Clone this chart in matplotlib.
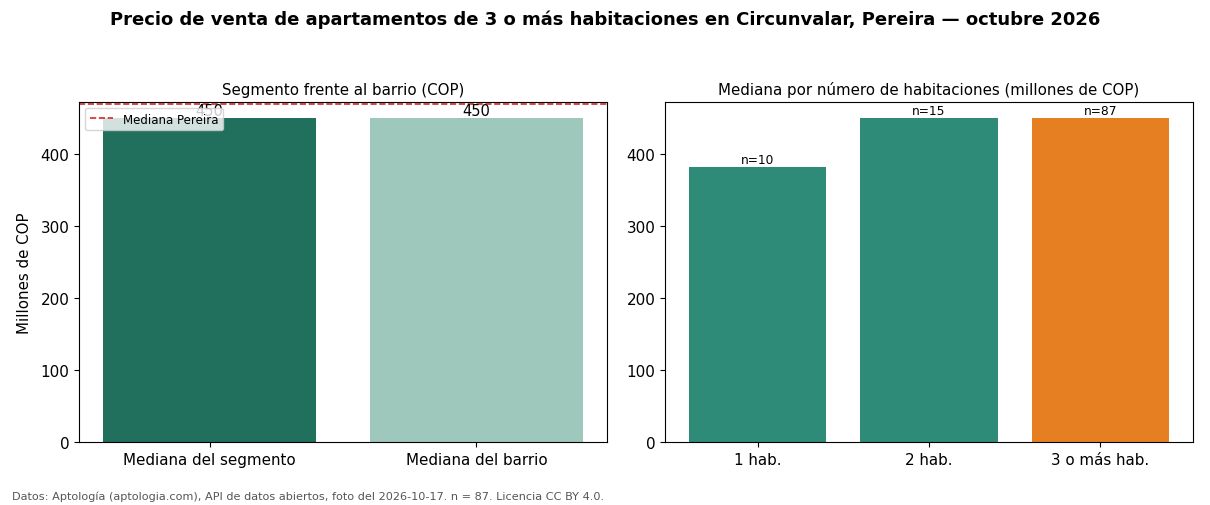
import matplotlib
matplotlib.use("Agg")
import matplotlib.pyplot as plt

plt.rcParams["font.family"] = ["DejaVu Sans"]

left_cats = ["Mediana del segmento", "Mediana del barrio"]
left_vals = [450, 450]
pereira_median = 470
right_cats = ["1 hab.", "2 hab.", "3 o más hab."]
right_vals = [382, 450, 450]
right_n = [10, 15, 87]

fig = plt.figure(figsize=(12.1, 5.06), dpi=100)
W, H = 1210, 506
ax1 = fig.add_axes([79 / W, 1 - 443 / H, (607 - 79) / W, (443 - 103) / H])
ax2 = fig.add_axes([665 / W, 1 - 443 / H, (1193 - 665) / W, (443 - 103) / H])

ymax = max(left_vals) * 1.05
b1 = ax1.bar(left_cats, left_vals, color=["#216f5d", "#9ec8bb"], width=0.8)
for rect, v in zip(b1, left_vals):
    ax1.text(rect.get_x() + rect.get_width() / 2, v, f"{v:.0f}", ha="center", va="bottom", fontsize=10.5)
ax1.axhline(pereira_median, color="#d62728", linestyle="--", linewidth=1.2, label="Mediana Pereira")
ax1.set_ylim(0, ymax)
ax1.set_ylabel("Millones de COP", fontsize=10.8, labelpad=6)
ax1.set_title("Segmento frente al barrio (COP)", fontsize=10.8)
ax1.legend(loc="upper left", fontsize=8.5)
ax1.tick_params(labelsize=10.9)

colors2 = ["#2e8b77", "#2e8b77", "#e67f22"]
b2 = ax2.bar(right_cats, right_vals, color=colors2, width=0.8)
for rect, v, n in zip(b2, right_vals, right_n):
    ax2.text(rect.get_x() + rect.get_width() / 2, v + 2, f"n={n}", ha="center", va="bottom", fontsize=8.8)
ax2.set_ylim(0, ymax)
ax2.set_title("Mediana por número de habitaciones (millones de COP)", fontsize=10.8)
ax2.tick_params(labelsize=10.9)

fig.suptitle("Precio de venta de apartamentos de 3 o más habitaciones en Circunvalar, Pereira — octubre 2026",
             fontsize=13, fontweight="bold", y=0.98)
fig.text(12 / W, 1 - 497 / H, "Datos: Aptología (aptologia.com), API de datos abiertos, foto del 2026-10-17. n = 87. Licencia CC BY 4.0.",
         fontsize=8.1, color="#555555", va="center")
fig.savefig("out.png", dpi=100)
